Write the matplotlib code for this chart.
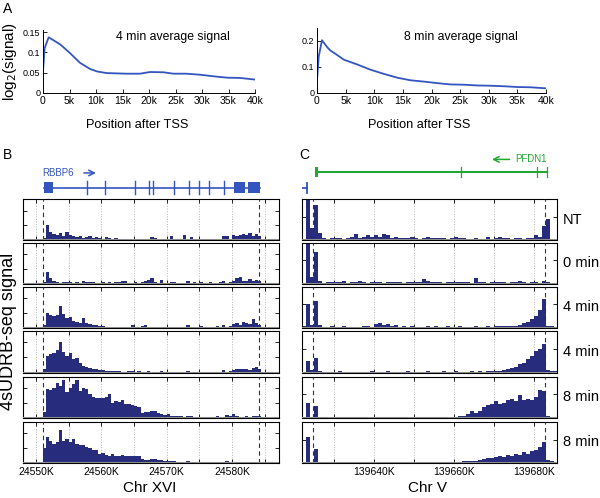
import numpy as np
import matplotlib
matplotlib.use("Agg")
import matplotlib.pyplot as plt

plt.rcParams['font.family'] = ['Liberation Sans', 'DejaVu Sans']

# ---- panel A: average signal after TSS (x in kb) ----
avg4_x = [0, 0.3, 1.07, 2, 3.3, 5.1, 7, 8.9, 10.2, 12, 15.8, 18.3, 20.2, 22.7, 24.6, 27, 29.6, 32.2, 34.7, 37.2, 40]
avg4_y = [0.053, 0.11, 0.137, 0.1295, 0.119, 0.098, 0.074, 0.059, 0.053, 0.049, 0.0475, 0.0475, 0.0516, 0.051,
          0.0475, 0.0475, 0.045, 0.041, 0.0377, 0.037, 0.033]
avg8_x = [0, 0.3, 0.87, 1.75, 2.3, 3.2, 4.7, 7, 9.3, 11.6, 14, 16.3, 18.6, 21, 23.3, 25.6, 28, 30.3, 32.6, 35, 37.3, 40]
avg8_y = [0.049, 0.14, 0.203, 0.177, 0.164, 0.151, 0.128, 0.110, 0.090, 0.074, 0.059, 0.049, 0.044, 0.038, 0.033,
          0.032, 0.029, 0.028, 0.026, 0.023, 0.022, 0.018]
pos_ticks = [0, 5, 10, 15, 20, 25, 30, 35, 40]
pos_labels = ['0', '5k', '10k', '15k', '20k', '25k', '30k', '35k', '40k']

# ---- panel B: Chr XVI, 0.5 kb bins starting at 24548K ----
b_start, b_bin = 24548.0, 0.5
b_nt = [0.02, 0, 0, 0, 0.05, 0.02, 0.15, 1.05, 0.55, 0.4, 0.35, 0.5, 0.3, 0.55, 0.35, 0.25, 0.2, 0.3, 0.15, 0.2,
        0.25, 0.15, 0.2, 0.15, 0.1, 0.2, 0.15, 0.1, 0.15, 0.1, 0.1, 0.08, 0.1, 0.05, 0.08, 0.05, 0.1, 0.05, 0.05, 0.2,
        0.15, 0.05, 0.02, 0.05, 0.05, 0.3, 0.05, 0.05, 0.1, 0.35, 0.1, 0.2, 0.1, 0.08, 0.1, 0.05, 0.08, 0.05, 0.1,
        0.05, 0.05, 0.3, 0.3, 0.05, 0.35, 0.3, 0.35, 0.4, 0.35, 0.45, 0.3, 0.4, 0.3, 0.05, 0.03, 0.02, 0, 0]
b_0 = [0, 0, 0, 0, 0, 0.02, 0.1, 0.78, 0.4, 0.15, 0.1, 0.05, 0.1, 0.08, 0.1, 0.05, 0.08, 0.05, 0.2, 0.1, 0.08, 0.1,
       0.05, 0.05, 0.1, 0.05, 0.08, 0.05, 0.1, 0.1, 0.2, 0.15, 0.05, 0.05, 0.1, 0.05, 0.1, 0.15, 0.25, 0.4, 0.1, 0.05,
       0.25, 0.05, 0.05, 0.1, 0.1, 0.05, 0.05, 0.05, 0.2, 0.05, 0.1, 0.05, 0.1, 0.05, 0.05, 0.08, 0.05, 0.05, 0.08,
       0.2, 0.05, 0.1, 0.2, 0.35, 0.45, 0.2, 0.15, 0.3, 0.2, 0.25, 0.2, 0.05, 0.02, 0, 0, 0]
b_4a = [0, 0, 0, 0, 0, 0.02, 0.15, 0.95, 0.85, 0.75, 0.85, 1.45, 0.9, 0.65, 0.7, 0.45, 0.4, 0.3, 0.65, 0.3, 0.25,
        0.15, 0.15, 0.1, 0.08, 0.05, 0.05, 0.05, 0.05, 0.03, 0.05, 0.05, 0.03, 0.15, 0.05, 0.05, 0.1, 0.2, 0.05, 0.05,
        0.03, 0.05, 0.05, 0.05, 0.03, 0.05, 0.05, 0.05, 0.05, 0.05, 0.2, 0.05, 0.05, 0.05, 0.1, 0.05, 0.05, 0.05, 0.05,
        0.08, 0.05, 0.2, 0.05, 0.1, 0.25, 0.3, 0.2, 0.35, 0.3, 0.25, 0.6, 0.3, 0.2, 0.05, 0, 0, 0, 0]
b_4b = [0, 0, 0, 0, 0, 0.02, 0.2, 1.1, 1.2, 1.25, 1.5, 2.0, 1.35, 1.1, 1.25, 0.9, 0.95, 0.6, 0.45, 0.35, 0.3, 0.2,
        0.2, 0.15, 0.15, 0.12, 0.1, 0.1, 0.08, 0.08, 0.05, 0.05, 0.08, 0.1, 0.05, 0.08, 0.05, 0.05, 0.08, 0.05, 0.05,
        0.05, 0.08, 0.05, 0.05, 0.05, 0.05, 0.05, 0.05, 0.05, 0.1, 0.05, 0.05, 0.03, 0.05, 0.05, 0.05, 0.05, 0.03,
        0.05, 0.05, 0.15, 0.05, 0.1, 0.15, 0.2, 0.25, 0.2, 0.2, 0.15, 0.3, 0.35, 0.2, 0.03, 0, 0, 0, 0]
b_8a = [0, 0, 0, 0.02, 0.02, 0.03, 0.4, 1.9, 1.85, 2.0, 2.35, 2.1, 2.5, 1.75, 2.0, 2.25, 2.5, 1.8, 2.0, 1.9, 1.6,
        1.4, 1.3, 1.35, 1.3, 1.4, 1.6, 1.0, 1.1, 1.05, 1.2, 0.95, 0.9, 0.85, 0.8, 0.75, 0.35, 0.4, 0.4, 0.45, 0.45,
        0.3, 0.25, 0.2, 0.25, 0.15, 0.15, 0.12, 0.1, 0.08, 0.1, 0.1, 0.05, 0.02, 0.02, 0.02, 0.02, 0.02, 0.02, 0.15,
        0.02, 0.05, 0.2, 0.15, 0.25, 0.1, 0.05, 0.08, 0.1, 0.08, 0.15, 0.1, 0.1, 0.02, 0, 0, 0, 0]
b_8b = [0.02, 0.03, 0.05, 0.03, 0.05, 0.05, 1.0, 1.75, 1.5, 1.3, 1.4, 2.2, 1.5, 1.6, 1.4, 1.6, 1.3, 1.2, 1.2, 1.05,
        1.0, 0.85, 0.9, 0.6, 0.7, 0.55, 0.5, 0.6, 0.5, 0.45, 0.55, 0.5, 0.45, 0.45, 0.45, 0.5, 0.3, 0.2, 0.2, 0.25,
        0.25, 0.2, 0.2, 0.15, 0.15, 0.15, 0.15, 0.1, 0.1, 0.1, 0.15, 0.1, 0.08, 0.05, 0.02, 0.02, 0.03, 0.05, 0.02,
        0.02, 0.05, 0.1, 0.15, 0.1, 0.1, 0.05, 0.05, 0.1, 0.08, 0.1, 0.1, 0.08, 0.1, 0.02, 0, 0, 0, 0]
b_tracks = [b_nt, b_0, b_4a, b_4b, b_8a, b_8b]
b_xlim = (24548.0, 24587.2)
b_grid = [24550, 24555, 24560, 24565, 24570, 24575, 24580, 24585]
b_labels = ['24550K', '', '24560K', '', '24570K', '', '24580K', '']
b_dash = [24551.0, 24584.2]
rbbp6_span = (24551.2, 24584.3)
rbbp6_exons = [(24551.26, 24552.55), (24580.3, 24582.0), (24582.4, 24584.3)]
rbbp6_small = [24557.8, 24560.55, 24565.15, 24567.3, 24567.9, 24571.1, 24573.4, 24574.9, 24576.5, 24578.8]

# ---- panel C: Chr V, 1 kb bins starting at 139622K ----
c_start, c_bin = 139622.0, 1.0
c_nt = [0.05, 2.0, 0.5, 1.5, 0.3, 0.1, 0.05, 0.1, 0.08, 0.1, 0.05, 0.1, 0.15, 0.25, 0.1, 0.15, 0.2, 0.15, 0.2, 0.15,
        0.25, 0.2, 0.1, 0.15, 0.1, 0.1, 0.08, 0.15, 0.1, 0.05, 0.1, 0.15, 0.1, 0.1, 0.08, 0.1, 0.05, 0.1, 0.15, 0.1,
        0.08, 0.05, 0.05, 0.08, 0.05, 0.05, 0.15, 0.05, 0.1, 0.15, 0.1, 0.08, 0.05, 0.1, 0.1, 0.05, 0.1, 0.08, 0.2,
        0.15, 0.6, 0.9, 0.05, 0.02]
c_0 = [0.02, 2.0, 0.3, 1.38, 0.1, 0.03, 0.05, 0.08, 0.05, 0.05, 0.1, 0.03, 0.05, 0.08, 0.1, 0.05, 0.03, 0.08, 0.05,
       0.05, 0.03, 0.05, 0.08, 0.05, 0.05, 0.03, 0.05, 0.05, 0.05, 0.05, 0.2, 0.12, 0.05, 0.05, 0.08, 0.03, 0.05, 0.05,
       0.05, 0.05, 0.08, 0.05, 0.03, 0.25, 0.05, 0.05, 0.03, 0.05, 0.05, 0.08, 0.05, 0.03, 0.05, 0.05, 0.1, 0.05,
       0.03, 0.05, 0.05, 0.03, 0.1, 0.05, 0.03, 0.02]
c_4a = [0.05, 1.0, 0.1, 1.15, 0.1, 0.02, 0.03, 0.05, 0.02, 0.03, 0.05, 0.02, 0.02, 0.03, 0.02, 0.05, 0.05, 0.03,
        0.15, 0.2, 0.1, 0.15, 0.05, 0.1, 0.03, 0.05, 0.02, 0.05, 0.03, 0.02, 0.03, 0.05, 0.02, 0.05, 0.03, 0.02, 0.05,
        0.03, 0.02, 0.05, 0.03, 0.02, 0.03, 0.05, 0.03, 0.02, 0.05, 0.03, 0.05, 0.05, 0.08, 0.05, 0.05, 0.08, 0.12,
        0.2, 0.25, 0.35, 0.5, 0.75, 1.2, 0.08, 0.05, 0.03]
c_4b = [0.02, 0.5, 0.1, 0.6, 0.05, 0.02, 0.03, 0.02, 0.03, 0.05, 0.02, 0.03, 0.02, 0.02, 0.03, 0.02, 0.03, 0.05,
        0.03, 0.02, 0.03, 0.05, 0.02, 0.03, 0.02, 0.03, 0.05, 0.02, 0.03, 0.02, 0.03, 0.05, 0.02, 0.03, 0.02, 0.05,
        0.03, 0.02, 0.05, 0.03, 0.02, 0.03, 0.05, 0.03, 0.05, 0.03, 0.05, 0.05, 0.08, 0.05, 0.1, 0.15, 0.2, 0.25,
        0.35, 0.4, 0.55, 0.7, 0.9, 1.0, 1.2, 0.1, 0.08, 0.05]
c_8a = [0.02, 0.65, 0.05, 0.5, 0.03, 0.01, 0.02, 0.01, 0.01, 0.02, 0.01, 0.01, 0.02, 0.01, 0.01, 0.02, 0.01, 0.01,
        0.02, 0.01, 0.01, 0.01, 0.02, 0.01, 0.01, 0.01, 0.02, 0.01, 0.01, 0.02, 0.01, 0.01, 0.02, 0.01, 0.02, 0.03,
        0.03, 0.05, 0.05, 0.08, 0.1, 0.15, 0.3, 0.2, 0.3, 0.45, 0.55, 0.6, 0.7, 0.6, 0.65, 0.75, 0.8, 0.7, 0.95, 0.75,
        0.8, 0.75, 0.9, 1.2, 1.15, 0.08, 0.03, 0.02]
c_8b = [0.02, 1.1, 0.05, 0.6, 0.03, 0.01, 0.01, 0.02, 0.01, 0.01, 0.01, 0.02, 0.01, 0.01, 0.01, 0.02, 0.01, 0.01,
        0.01, 0.02, 0.01, 0.01, 0.01, 0.02, 0.01, 0.01, 0.01, 0.02, 0.01, 0.01, 0.01, 0.02, 0.01, 0.01, 0.01, 0.02,
        0.01, 0.02, 0.05, 0.05, 0.08, 0.08, 0.1, 0.1, 0.12, 0.15, 0.2, 0.2, 0.25, 0.3, 0.25, 0.35, 0.3, 0.4, 0.35,
        0.45, 0.4, 0.5, 0.55, 0.7, 0.9, 0.12, 0.1, 0.05]
c_tracks = [c_nt, c_0, c_4a, c_4b, c_8a, c_8b]
c_xlim = (139622.0, 139685.75)
c_grid = [139630, 139640, 139650, 139660, 139670, 139680]
c_labels = ['', '139640K', '', '139660K', '', '139680K']
c_dash = [139624.75, 139682.8]
pfdn1_span = (139625.5, 139683.25)
pfdn1_block = (139625.25, 139626.1)
pfdn1_small = [139661.75, 139680.75, 139683.25]
track_names = ['NT', '0 min', '4 min', '4 min', '8 min', '8 min']

W, H = 600, 498
navy = '#272c7d'
blue = '#3455c0'
green = '#22a832'


def rect(l, t, r, b):
    return [l / W, 1 - b / H, (r - l) / W, (b - t) / H]


fig = plt.figure(figsize=(6, 4.98), dpi=100)

# panel A
for l, r, xs, ys, top, yt, ttl, tx in [(43, 255, avg4_x, avg4_y, 0.155, [0, 0.05, 0.1, 0.15], '4 min average signal', 173),
                                       (317, 546, avg8_x, avg8_y, 0.25, [0, 0.1, 0.2], '8 min average signal', 461)]:
    ax = fig.add_axes(rect(l, 93 - top / yt[-1] * (93 - (32 if yt[-1] == 0.15 else 41)), r, 93))
    ax.plot(xs, ys, color=blue, lw=1.3)
    ax.set_xlim(0, 40)
    ax.set_ylim(0, top)
    ax.set_yticks(yt)
    ax.set_yticklabels([('%g' % v) for v in yt], fontsize=6.5)
    ax.set_xticks(pos_ticks)
    ax.set_xticklabels(pos_labels, fontsize=7.5)
    ax.tick_params(direction='in', length=3, width=0.6, pad=2)
    for s in ['top', 'right']:
        ax.spines[s].set_visible(False)
    for s in ['left', 'bottom']:
        ax.spines[s].set_linewidth(0.7)
    fig.text(tx / W, 1 - 37 / H, ttl, fontsize=8.8, ha='center', va='center')
    fig.text((l + r) / 2 / W - 0.02, 1 - 125 / H, 'Position after TSS', fontsize=9.2, ha='center', va='center')

fig.text(10 / W, 1 - 62 / H, 'log$_2$(signal)', fontsize=11, rotation=90, ha='center', va='center')
fig.text(8 / W, 1 - 9 / H, 'A', fontsize=10, ha='center', va='center')
fig.text(8 / W, 1 - 155 / H, 'B', fontsize=10, ha='center', va='center')
fig.text(304 / W, 1 - 155 / H, 'C', fontsize=10, ha='center', va='center')

# gene models
gb = fig.add_axes(rect(23, 160, 279, 197))
gb.set_xlim(*b_xlim)
gb.set_ylim(0, 1)
gb.axis('off')
gb.plot(rbbp6_span, [0.24, 0.24], color=blue, lw=1.2)
for s, e in rbbp6_exons:
    gb.add_patch(plt.Rectangle((s, 0.1), e - s, 0.3, color=blue, lw=0))
for p in rbbp6_small:
    gb.plot([p, p], [0.08, 0.42], color=blue, lw=1.0)
gb.text(rbbp6_span[0] - 0.2, 0.65, 'RBBP6', color=blue, fontsize=7, va='center')
gb.annotate('', xy=(24559.6, 0.65), xytext=(24556.9, 0.65),
            arrowprops=dict(arrowstyle='->', color=blue, lw=1.1))

gc = fig.add_axes(rect(302, 150, 557, 197))
gc.set_xlim(*c_xlim)
gc.set_ylim(0, 1)
gc.axis('off')
gc.plot(pfdn1_span, [0.53, 0.53], color=green, lw=1.5)
gc.add_patch(plt.Rectangle((pfdn1_block[0], 0.42), pfdn1_block[1] - pfdn1_block[0], 0.22, color=green, lw=0))
for p in pfdn1_small:
    gc.plot([p, p], [0.43, 0.63], color=green, lw=0.9)
gc.text(pfdn1_span[1], 0.8, 'PFDN1', color=green, fontsize=7, ha='right', va='center')
gc.annotate('', xy=(139668.8, 0.8), xytext=(139674.6, 0.8),
            arrowprops=dict(arrowstyle='->', color=green, lw=1.1))
gc.plot([c_xlim[0], 139623.25], [0.19, 0.19], color=blue, lw=1.3)
gc.plot([139623.25, 139623.25], [0.08, 0.3], color=blue, lw=1.3)

# tracks
tops = [199.5, 243, 286.5, 330.5, 376.5, 422]
bots = [240, 283.5, 327.5, 372.5, 418, 463]


def draw_track(ax, start, binw, vals, xlim, top, yt, grid, dashes):
    x = start + binw * np.arange(len(vals))
    ax.bar(x, vals, width=binw, align='edge', color=navy, lw=0, zorder=2)
    for g in grid:
        ax.axvline(g, color='#b5b5b5', ls=':', lw=0.7, zorder=1)
    for d in dashes:
        ax.axvline(d, color='#333333', ls=(0, (4, 3)), lw=0.8, zorder=3)
    ax.axhline(0, color='#8c8c8c', lw=2.2, zorder=3)
    ax.set_xlim(*xlim)
    ax.set_ylim(0, top)
    ax.set_yticks(yt)
    ax.set_xticks(grid)
    ax.tick_params(direction='in', length=3, width=0.6, top=True, right=True,
                   labelleft=False, labelbottom=False)
    for s in ax.spines.values():
        s.set_linewidth(0.8)


for i in range(6):
    ax = fig.add_axes(rect(23, tops[i], 279, bots[i]))
    draw_track(ax, b_start, b_bin, b_tracks[i], b_xlim, 2.75, [1, 2], b_grid, b_dash)
    if i == 5:
        ax.tick_params(labelbottom=True, labelsize=7.5, pad=3)
        ax.set_xticklabels(b_labels)
    ax = fig.add_axes(rect(302, tops[i], 557, bots[i]))
    draw_track(ax, c_start, c_bin, c_tracks[i], c_xlim, 1.75, [1], c_grid, c_dash)
    if i == 5:
        ax.tick_params(labelbottom=True, labelsize=7.5, pad=3)
        ax.set_xticklabels(c_labels)
    fig.text(563 / W, 1 - (tops[i] + bots[i]) / 2 / H, track_names[i], fontsize=10.5, va='center')

fig.text(9 / W, 1 - 331 / H, '4sUDRB-seq signal', fontsize=13, rotation=90, ha='center', va='center')
fig.text(150 / W, 1 - 488 / H, 'Chr XVI', fontsize=11, ha='center', va='center')
fig.text(428 / W, 1 - 488 / H, 'Chr V', fontsize=11, ha='center', va='center')

fig.savefig('out.png', dpi=100)
